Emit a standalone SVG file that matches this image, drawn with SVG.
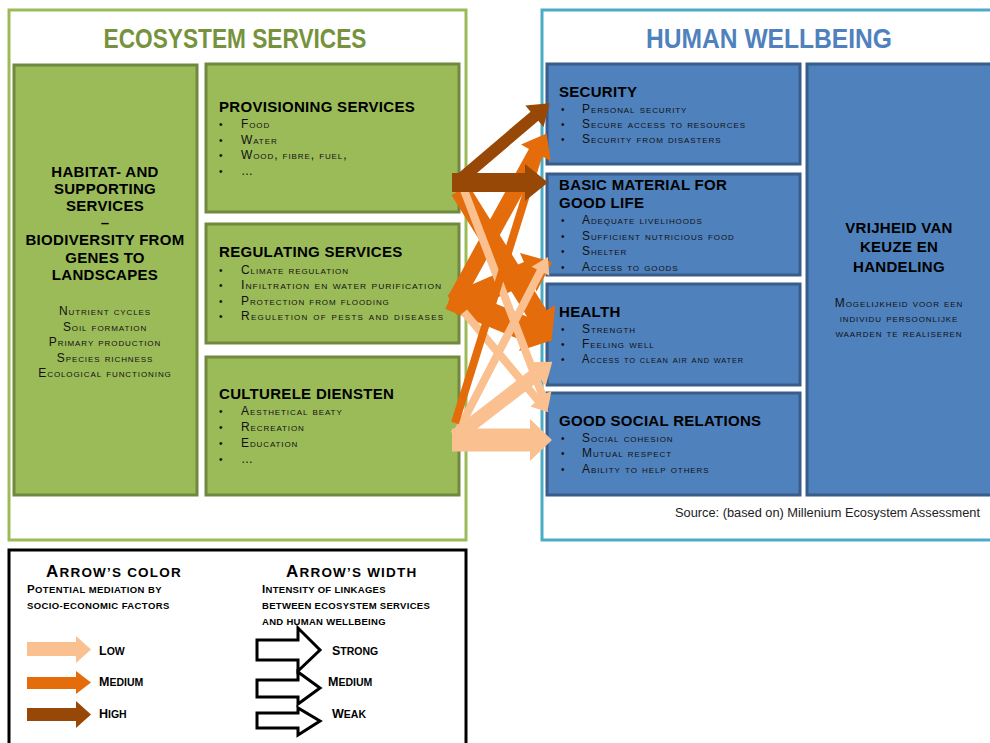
<svg xmlns="http://www.w3.org/2000/svg" width="990" height="743" viewBox="0 0 990 743">
<style>
.frameG{fill:#fff;stroke:#9bbb59;stroke-width:3}
.frameB{fill:#fff;stroke:#4bacc6;stroke-width:3}
.gbox{fill:#9bbb59;stroke:#71893f;stroke-width:3}
.bbox{fill:#4f81bd;stroke:#385d8a;stroke-width:3}
.big{font-family:"Liberation Sans Narrow","Liberation Sans",Arial,sans-serif;font-weight:bold;font-size:28px}
.t{font-family:"Liberation Sans",Arial,sans-serif;font-weight:bold;font-size:15px;letter-spacing:0.3px;fill:#000}
.it{font-family:"Liberation Sans",Arial,sans-serif;font-size:12px;font-variant:small-caps;letter-spacing:0.9px;fill:#111}
.bu{font-family:"Liberation Sans",Arial,sans-serif;font-size:10px;fill:#111}
.c{text-anchor:middle}
.lg{font-family:"Liberation Sans",Arial,sans-serif;font-weight:bold;fill:#000}
.low{fill:#fac090}.med{fill:#e46c0a}.high{fill:#974806}
.wa{fill:#fff;stroke:#000;stroke-width:3;stroke-linejoin:miter}
.src{font-family:"Liberation Sans",Arial,sans-serif;font-size:12px;fill:#222}
</style>

<g id="frame-ecosystem">
<rect class="frameG" x="9" y="10" width="457" height="530"/>
<text class="big c" x="235" y="48" fill="#76923c" textLength="263" lengthAdjust="spacingAndGlyphs">ECOSYSTEM SERVICES</text>
</g>
<g id="frame-wellbeing">
<rect class="frameB" x="542" y="10" width="460" height="530"/>
<text class="big c" x="769" y="48" fill="#4f81bd" textLength="246" lengthAdjust="spacingAndGlyphs">HUMAN WELLBEING</text>
<text class="src" x="675" y="517" textLength="305" lengthAdjust="spacingAndGlyphs">Source: (based on) Millenium  Ecosystem Assessment</text>
</g>

<g id="habitat">
<rect class="gbox" x="14" y="65" width="183" height="430"/>
<text class="t c" x="105" y="177">HABITAT- AND</text>
<text class="t c" x="105" y="194">SUPPORTING</text>
<text class="t c" x="105" y="211">SERVICES</text>
<text class="t c" x="105" y="228">–</text>
<text class="t c" x="105" y="245">BIODIVERSITY FROM</text>
<text class="t c" x="105" y="263">GENES TO</text>
<text class="t c" x="105" y="280">LANDSCAPES</text>
<text class="it c" x="105" y="315">Nutrient cycles</text>
<text class="it c" x="105" y="331">Soil formation</text>
<text class="it c" x="105" y="346">Primary production</text>
<text class="it c" x="105" y="362">Species richness</text>
<text class="it c" x="105" y="377">Ecological functioning</text>
</g>

<g id="provisioning">
<rect class="gbox" x="206" y="64" width="253" height="148"/>
<text class="t" x="219" y="112">PROVISIONING  SERVICES</text>
<text class="bu" x="219" y="128">•</text><text class="it" x="241" y="128">Food</text>
<text class="bu" x="219" y="144">•</text><text class="it" x="241" y="144">Water</text>
<text class="bu" x="219" y="159">•</text><text class="it" x="241" y="159">Wood, fibre, fuel,</text>
<text class="bu" x="219" y="175">•</text><text class="it" x="241" y="175">…</text>
</g>

<g id="regulating">
<rect class="gbox" x="206" y="224" width="253" height="119"/>
<text class="t" x="219" y="257">REGULATING SERVICES</text>
<text class="bu" x="219" y="274">•</text><text class="it" x="241" y="274">Climate regulation</text>
<text class="bu" x="219" y="289">•</text><text class="it" x="241" y="289" textLength="201" lengthAdjust="spacingAndGlyphs">Infiltration en water purification</text>
<text class="bu" x="219" y="305">•</text><text class="it" x="241" y="305">Protection from flooding</text>
<text class="bu" x="219" y="320">•</text><text class="it" x="241" y="320" textLength="203" lengthAdjust="spacing">Reguletion of pests and diseases</text>
</g>

<g id="cultural">
<rect class="gbox" x="206" y="357" width="253" height="138"/>
<text class="t" x="219" y="399">CULTURELE DIENSTEN</text>
<text class="bu" x="219" y="415">•</text><text class="it" x="241" y="415">Aesthetical beaty</text>
<text class="bu" x="219" y="431">•</text><text class="it" x="241" y="431">Recreation</text>
<text class="bu" x="219" y="447">•</text><text class="it" x="241" y="447">Education</text>
<text class="bu" x="219" y="463">•</text><text class="it" x="241" y="463">…</text>
</g>

<g id="security">
<rect class="bbox" x="547" y="64" width="253" height="100"/>
<text class="t" x="559" y="97">SECURITY</text>
<text class="bu" x="561" y="113">•</text><text class="it" x="582" y="113">Personal security</text>
<text class="bu" x="561" y="128">•</text><text class="it" x="582" y="128">Secure access to resources</text>
<text class="bu" x="561" y="143">•</text><text class="it" x="582" y="143">Security from disasters</text>
</g>

<g id="basic-material">
<rect class="bbox" x="547" y="174" width="253" height="101"/>
<text class="t" x="559" y="190">BASIC MATERIAL FOR</text>
<text class="t" x="559" y="208">GOOD LIFE</text>
<text class="bu" x="561" y="224">•</text><text class="it" x="582" y="224">Adequate livelihoods</text>
<text class="bu" x="561" y="240">•</text><text class="it" x="582" y="240">Sufficient nutricious food</text>
<text class="bu" x="561" y="255">•</text><text class="it" x="582" y="255">Shelter</text>
<text class="bu" x="561" y="271">•</text><text class="it" x="582" y="271">Access to goods</text>
</g>

<g id="health">
<rect class="bbox" x="547" y="284" width="253" height="101"/>
<text class="t" x="559" y="317">HEALTH</text>
<text class="bu" x="561" y="333">•</text><text class="it" x="582" y="333">Strength</text>
<text class="bu" x="561" y="348">•</text><text class="it" x="582" y="348">Feeling well</text>
<text class="bu" x="561" y="363">•</text><text class="it" x="582" y="363" textLength="162" lengthAdjust="spacingAndGlyphs">Access to clean air and water</text>
</g>

<g id="social-relations">
<rect class="bbox" x="547" y="393" width="253" height="102"/>
<text class="t" x="559" y="426">GOOD SOCIAL RELATIONS</text>
<text class="bu" x="561" y="442">•</text><text class="it" x="582" y="442">Social cohesion</text>
<text class="bu" x="561" y="457">•</text><text class="it" x="582" y="457">Mutual respect</text>
<text class="bu" x="561" y="473">•</text><text class="it" x="582" y="473">Ability to help others</text>
</g>

<g id="freedom">
<rect class="bbox" x="807" y="64" width="185" height="431"/>
<text class="t c" x="899" y="233">VRIJHEID VAN</text>
<text class="t c" x="899" y="252">KEUZE EN</text>
<text class="t c" x="899" y="272">HANDELING</text>
<text class="it c" x="899" y="307">Mogelijkheid  voor een</text>
<text class="it c" x="899" y="322">individu persoonlijke</text>
<text class="it c" x="899" y="337">waarden te realiseren</text>
</g>

<g id="connectors">
<polygon class="med" transform="translate(460 190) rotate(58.1)" points="0,-10 148,-10 148,-20 174,0 148,20 148,10 0,10"/>
<polygon class="med" transform="translate(455 300) rotate(-61.2)" points="0,-8 168,-8 168,-17 190,0 168,17 168,8 0,8"/>
<polygon class="med" transform="translate(452 305) rotate(-23.3)" points="0,-11 83,-11 83,-21 109,0 83,21 83,11 0,11"/>
<polygon class="med" transform="translate(450 298) rotate(22.2)" points="0,-12 84,-12 84,-23 111,0 84,23 84,12 0,12"/>
<polygon class="low" transform="translate(464 190) rotate(69.1)" points="0,-4 219,-4 219,-10 235,0 219,10 219,4 0,4"/>
<polygon class="low" transform="translate(464 312) rotate(50)" points="0,-4 115,-4 115,-10 131,0 115,10 115,4 0,4"/>
<polygon class="low" transform="translate(457 433) rotate(-62.7)" points="0,-4 182,-4 182,-10 198,0 182,10 182,4 0,4"/>
<polygon class="low" transform="translate(455 437) rotate(-37.7)" points="0,-7 103,-7 103,-15 123,0 103,15 103,7 0,7"/>
<polygon class="low" transform="translate(452 440)" points="0,-11.5 78,-11.5 78,-21 100,0 78,21 78,11.5 0,11.5"/>
<polygon class="med" transform="translate(455 423) rotate(-72.7)" points="0,-4 282,-4 282,-9 296,0 282,9 282,4 0,4"/>
<polygon class="high" transform="translate(456 183) rotate(-40.4)" points="0,-6 103,-6 103,-14 123,0 103,14 103,6 0,6"/>
<polygon class="high" transform="translate(452 182.5)" points="0,-9.5 73,-9.5 73,-18.5 96,0 73,18.5 73,9.5 0,9.5"/>
</g>

<g id="legend">
<rect x="9" y="550" width="457" height="200" fill="#fff" stroke="#000" stroke-width="3"/>
<text class="lg" x="46" y="577" letter-spacing="1.2"><tspan font-size="17">A</tspan><tspan font-size="13.5">RROW’S COLOR</tspan></text>
<text class="lg" x="27" y="593" letter-spacing="0.4"><tspan font-size="11.5">P</tspan><tspan font-size="9.5">OTENTIAL  MEDIATION BY</tspan></text>
<text class="lg" x="27" y="609" font-size="9.5" letter-spacing="0.4">SOCIO-ECONOMIC  FACTORS</text>
<text class="lg" x="286" y="577" letter-spacing="1.2"><tspan font-size="17">A</tspan><tspan font-size="13.5">RROW’S WIDTH</tspan></text>
<text class="lg" x="262" y="593" letter-spacing="0.3"><tspan font-size="11.5">I</tspan><tspan font-size="9.5">NTENSITY OF LINKAGES</tspan></text>
<text class="lg" x="262" y="609" font-size="9.5" letter-spacing="0.3">BETWEEN ECOSYSTEM  SERVICES</text>
<text class="lg" x="262" y="625" font-size="9.5" letter-spacing="0.3">AND HUMAN WELLBEING</text>
<polygon class="low" points="27,642 76,642 76,636 91,649.5 76,663 76,656 27,656"/>
<polygon class="med" points="27,677 76,677 76,671 91,682.5 76,694 76,689 27,689"/>
<polygon class="high" points="27,708 76,708 76,701 91,714.5 76,728 76,721 27,721"/>
<text class="lg" x="99" y="655"><tspan font-size="12.5">L</tspan><tspan font-size="10.5">OW</tspan></text>
<text class="lg" x="99" y="686"><tspan font-size="12.5">M</tspan><tspan font-size="10.5">EDIUM</tspan></text>
<text class="lg" x="99" y="718"><tspan font-size="12.5">H</tspan><tspan font-size="10.5">IGH</tspan></text>
<polygon class="wa" points="257,640 298,640 298,628 320,650 298,671 298,660 257,660"/>
<polygon class="wa" points="257,680 298,680 298,672 320,688 298,704 298,697 257,697"/>
<polygon class="wa" points="257,713 298,713 298,708 320,721 298,735 298,728 257,728"/>
<text class="lg" x="332" y="655"><tspan font-size="12.5">S</tspan><tspan font-size="10.5">TRONG</tspan></text>
<text class="lg" x="328" y="686"><tspan font-size="12.5">M</tspan><tspan font-size="10.5">EDIUM</tspan></text>
<text class="lg" x="332" y="718"><tspan font-size="12.5">W</tspan><tspan font-size="10.5">EAK</tspan></text>
</g>
</svg>
